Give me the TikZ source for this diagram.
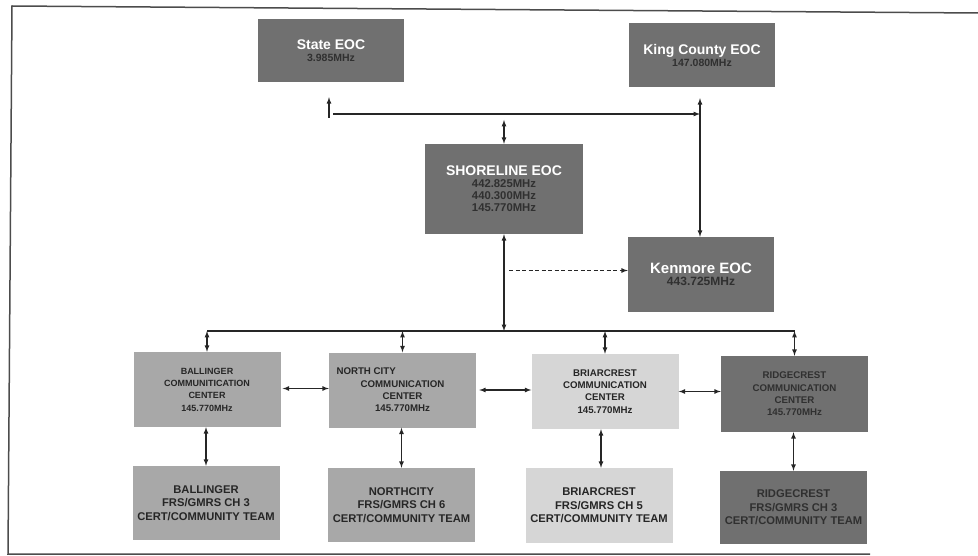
\documentclass[tikz,border=0pt]{standalone}
\usepackage{fontspec}
\setmainfont{Liberation Sans}
\usetikzlibrary{arrows}
\definecolor{darkbox}{RGB}{112,112,112}
\definecolor{midbox}{RGB}{168,168,168}
\definecolor{lightbox}{RGB}{214,214,214}
\definecolor{freqtext}{RGB}{48,48,48}

\begin{document}
\begin{tikzpicture}[x=1pt,y=-1pt,>=latex]
	\tikzstyle{every node}=[inner sep=0pt, align=center, font=\bfseries]
	\tikzstyle{dark}=[fill=darkbox, text=freqtext]
	\tikzstyle{mid}=[fill=midbox, text=black!85]
	\tikzstyle{light}=[fill=lightbox, text=black!85]
	\tikzstyle{centre}=[minimum width=147pt, minimum height=75pt, font=\bfseries\fontsize{9.7}{12.3}\selectfont]
	\tikzstyle{team}=[minimum width=147pt, minimum height=74pt, font=\bfseries\fontsize{11.2}{13.7}\selectfont]
	\tikzstyle{link}=[line width=1.2pt, black!85]
	\useasboundingbox (0,0) rectangle (978,556);
	\draw[line width=1.5pt, black!70] (978,13) -- (12,6) -- (8,554) -- (870,554);
	\draw (331,50.5) node (state) [dark, minimum width=146pt, minimum height=63pt] {{\color{white}\fontsize{14}{15}\selectfont State EOC}\\{\fontsize{10.5}{12}\selectfont 3.985MHz}};
	\draw (702,55) node (king) [dark, minimum width=146pt, minimum height=64pt] {{\color{white}\fontsize{14}{15}\selectfont King County EOC}\\{\fontsize{10.5}{12}\selectfont 147.080MHz}};
	\draw (504,189) node (shore) [dark, minimum width=158pt, minimum height=90pt] {{\color{white}\fontsize{14}{16}\selectfont SHORELINE EOC}\\{\fontsize{11.3}{14}\selectfont 442.825MHz}\\{\fontsize{11.3}{14}\selectfont 440.300MHz}\\{\fontsize{11.3}{14}\selectfont 145.770MHz}};
	\draw (701,274.5) node (kenmore) [dark, minimum width=146pt, minimum height=75pt] {{\color{white}\fontsize{15}{17}\selectfont Kenmore EOC}\\{\fontsize{12}{14}\selectfont 443.725MHz}};
	\draw (207,389.5) node (ball) [mid, centre, font=\bfseries\fontsize{9}{12.3}\selectfont] {BALLINGER\\COMMUNITICATION\\CENTER\\145.770MHz};
	\draw (402.5,390) node (north) [mid, centre] {\makebox[132pt][l]{NORTH CITY}\\COMMUNICATION\\CENTER\\145.770MHz};
	\draw (605,391.5) node (briar) [light, centre] {BRIARCREST\\COMMUNICATION\\CENTER\\145.770MHz};
	\draw (794.5,394) node (ridge) [dark, centre, minimum height=76pt] {RIDGECREST\\COMMUNICATION\\CENTER\\145.770MHz};
	\draw (206,503) node (ballt) [mid, team] {BALLINGER\\FRS/GMRS CH 3\\CERT/COMMUNITY TEAM};
	\draw (401.5,505) node (northt) [mid, team] {NORTHCITY\\FRS/GMRS CH 6\\CERT/COMMUNITY TEAM};
	\draw (599,505.5) node (briart) [light, team, minimum height=75pt] {BRIARCREST\\FRS/GMRS CH 5\\CERT/COMMUNITY TEAM};
	\draw (793.5,507.5) node (ridget) [dark, team, minimum height=73pt] {RIDGECREST\\FRS/GMRS CH 3\\CERT/COMMUNITY TEAM};
	\coordinate (tl) at (329,118);
	\coordinate (tr) at (700,114);
	\coordinate (bus) at (0,331);
	% top links
	\draw[link, ->, shorten >=15pt] (tl) -- (tl |- state.south);
	\draw[link, ->] ([xshift=4pt]tl |- tr) -- (tr);
	\draw[link, <->, shorten <=11pt] (king.south -| tr) -- (kenmore.north -| tr);
	\draw[link, <->, shorten <=6pt] (shore.north |- tr) -- (shore.north);
	\draw[link, <->] (shore.south) -- (shore.south |- bus);
	\draw[link, ->, dash pattern=on 4pt off 2.5pt, shorten <=5pt] ([yshift=4pt]shore.south |- kenmore.west) -- ([yshift=4pt]kenmore.west);
	% bus to centres
	\draw[link] (ball.north |- bus) -- (ridge.north |- bus);
	\draw[link, <->] (ball.north |- bus) -- (ball.north);
	\draw[link, <->] (north.north |- bus) -- (north.north);
	\draw[link, <->] (briar.north |- bus) -- (briar.north);
	\draw[link, <->] (ridge.north |- bus) -- (ridge.north);
	\draw[link, <->, shorten <=2pt] ([yshift=1pt]ball.east) -- ([yshift=1pt]ball.east -| north.west);
	\draw[link, <->, shorten <=3pt] (north.east) -- (north.east -| briar.west);
	\draw[link, <->] (briar.east) -- (briar.east -| ridge.west);
	\draw[link, <->] (ballt.north |- ball.south) -- (ballt.north);
	\draw[link, <->] (northt.north |- north.south) -- (northt.north);
	\draw[link, <->] ([xshift=2pt]briart.north |- briar.south) -- ([xshift=2pt]briart.north);
	\draw[link, <->] (ridget.north |- ridge.south) -- (ridget.north);
\end{tikzpicture}
\end{document}
